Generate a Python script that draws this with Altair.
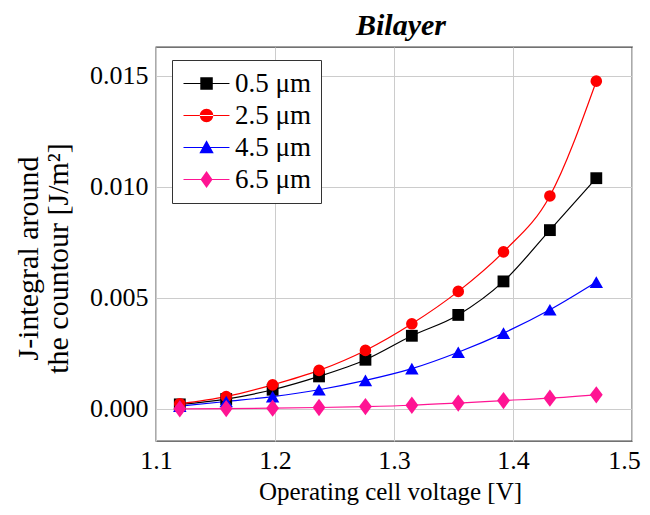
import altair as alt
import pandas as pd

voltage = [1.12, 1.159, 1.198, 1.237, 1.276, 1.315, 1.354, 1.392, 1.431, 1.47]
series_names = ["0.5 μm", "2.5 μm", "4.5 μm", "6.5 μm"]
j_05 = [0.00020, 0.00044, 0.00086, 0.00146, 0.00221, 0.00329, 0.00423, 0.00574, 0.00805, 0.01039]
j_25 = [0.00023, 0.00055, 0.00108, 0.00173, 0.00263, 0.00383, 0.00529, 0.00707, 0.00959, 0.01476]
j_45 = [0.00012, 0.00033, 0.00055, 0.00086, 0.00128, 0.00181, 0.00255, 0.00341, 0.00446, 0.00571]
j_65 = [0.00000, 0.00001, 0.00003, 0.00006, 0.00010, 0.00016, 0.00026, 0.00037, 0.00048, 0.00063]
colors = ["#000000", "#ff0000", "#0000ff", "#ff1493"]
shapes = ["square", "circle", "triangle-up", "M 0 -1 L 0.74 0 L 0 1 L -0.74 0 Z"]
marker_sizes = [140, 135, 180, 300]

# legend symbols: a line segment with the marker in its middle (path units, 12 px each)
line_bar = "M -1 -0.05 L 2.83 -0.05 L 2.83 0.05 L -1 0.05 Z "
legend_paths = [
    line_bar + "M 0.4 -0.52 L 1.44 -0.52 L 1.44 0.52 L 0.4 0.52 Z",
    line_bar + "M 0.36 0 A 0.56 0.56 0 1 0 1.48 0 A 0.56 0.56 0 1 0 0.36 0 Z",
    line_bar + "M 0.92 -0.6 L 1.52 0.48 L 0.32 0.48 Z",
    line_bar + "M 0.92 -0.7 L 1.42 0 L 0.92 0.7 L 0.42 0 Z",
]

rows = []
for name, vals, ms in zip(series_names, [j_05, j_25, j_45, j_65], marker_sizes):
    for v, j in zip(voltage, vals):
        rows.append({"V": v, "J": j, "series": name, "msize": ms})
df = pd.DataFrame(rows)

FONT = "Liberation Serif"

x = alt.X("V:Q", scale=alt.Scale(domain=[1.1, 1.5], nice=False, zero=False),
          axis=alt.Axis(values=[1.1, 1.2, 1.3, 1.4, 1.5], format=".1f",
                        title="Operating cell voltage [V]", tickSize=0,
                        labelPadding=6, labelFlush=False, domain=False,
                        labelOffset=alt.ExprRef(expr="datum.value >= 1.45 ? -8 : 0"),
                        titleX=234, titleY=58, titleBaseline="alphabetic",
                        titleAlign="center", titleFontSize=25))
y = alt.Y("J:Q", scale=alt.Scale(domain=[-0.00145, 0.0163], nice=False, zero=False),
          axis=alt.Axis(values=[0, 0.005, 0.01, 0.015], format=".3f",
                        title=["J-integral around", "the countour [J/m²]"],
                        tickSize=0, labelPadding=8, labelFlush=False, domain=False,
                        titleX=-119, titleY=211, titleAngle=270, titleBaseline="alphabetic",
                        titleAlign="center", titleLineHeight=30, titleFontSize=30))

base = alt.Chart(df)
lines = base.mark_line(strokeWidth=1.2, interpolate="monotone").encode(
    x=x, y=y,
    color=alt.Color("series:N", scale=alt.Scale(domain=series_names, range=colors), legend=None))
points = base.mark_point(filled=True, opacity=1).encode(
    x=x, y=y,
    color=alt.Color("series:N", scale=alt.Scale(domain=series_names, range=colors), legend=None),
    shape=alt.Shape("series:N", scale=alt.Scale(domain=series_names, range=shapes), legend=None),
    size=alt.Size("msize:Q", scale=None, legend=None))

leg = dict(title=None, orient="none", legendX=16, legendY=13,
           strokeColor="#333333", fillColor="white", padding=10,
           symbolSize=576, symbolOpacity=1, symbolStrokeWidth=0,
           labelFont=FONT, labelFontSize=27, labelColor="black",
           rowPadding=4, labelOffset=26)
legend_layer = base.mark_point(filled=True, opacity=0).encode(
    x=x, y=y,
    color=alt.Color("series:N", scale=alt.Scale(domain=series_names, range=colors),
                    legend=alt.Legend(**leg)),
    shape=alt.Shape("series:N", scale=alt.Scale(domain=series_names, range=legend_paths),
                    legend=alt.Legend(**leg)))

chart = alt.layer(lines, points, legend_layer).resolve_scale(
    shape="independent", color="independent").properties(
    width=476, height=394,
    title=alt.TitleParams("Bilayer", font=FONT, fontSize=30, fontWeight="bold", fontStyle="italic",
                          anchor="middle", offset=6, dx=7, color="black"),
    autosize=alt.AutoSizeParams(type="none"),
    padding={"left": 148, "top": 39, "right": 10, "bottom": 64},
).configure_view(stroke="#444444", strokeWidth=1.3).configure_axis(
    labelFont=FONT, titleFont=FONT, labelFontSize=26,
    labelColor="black", titleColor="black", titleFontWeight="normal",
    gridColor="#cccccc", gridWidth=1,
)

chart.save("out.html", embed_options={"renderer": "svg", "actions": False})
